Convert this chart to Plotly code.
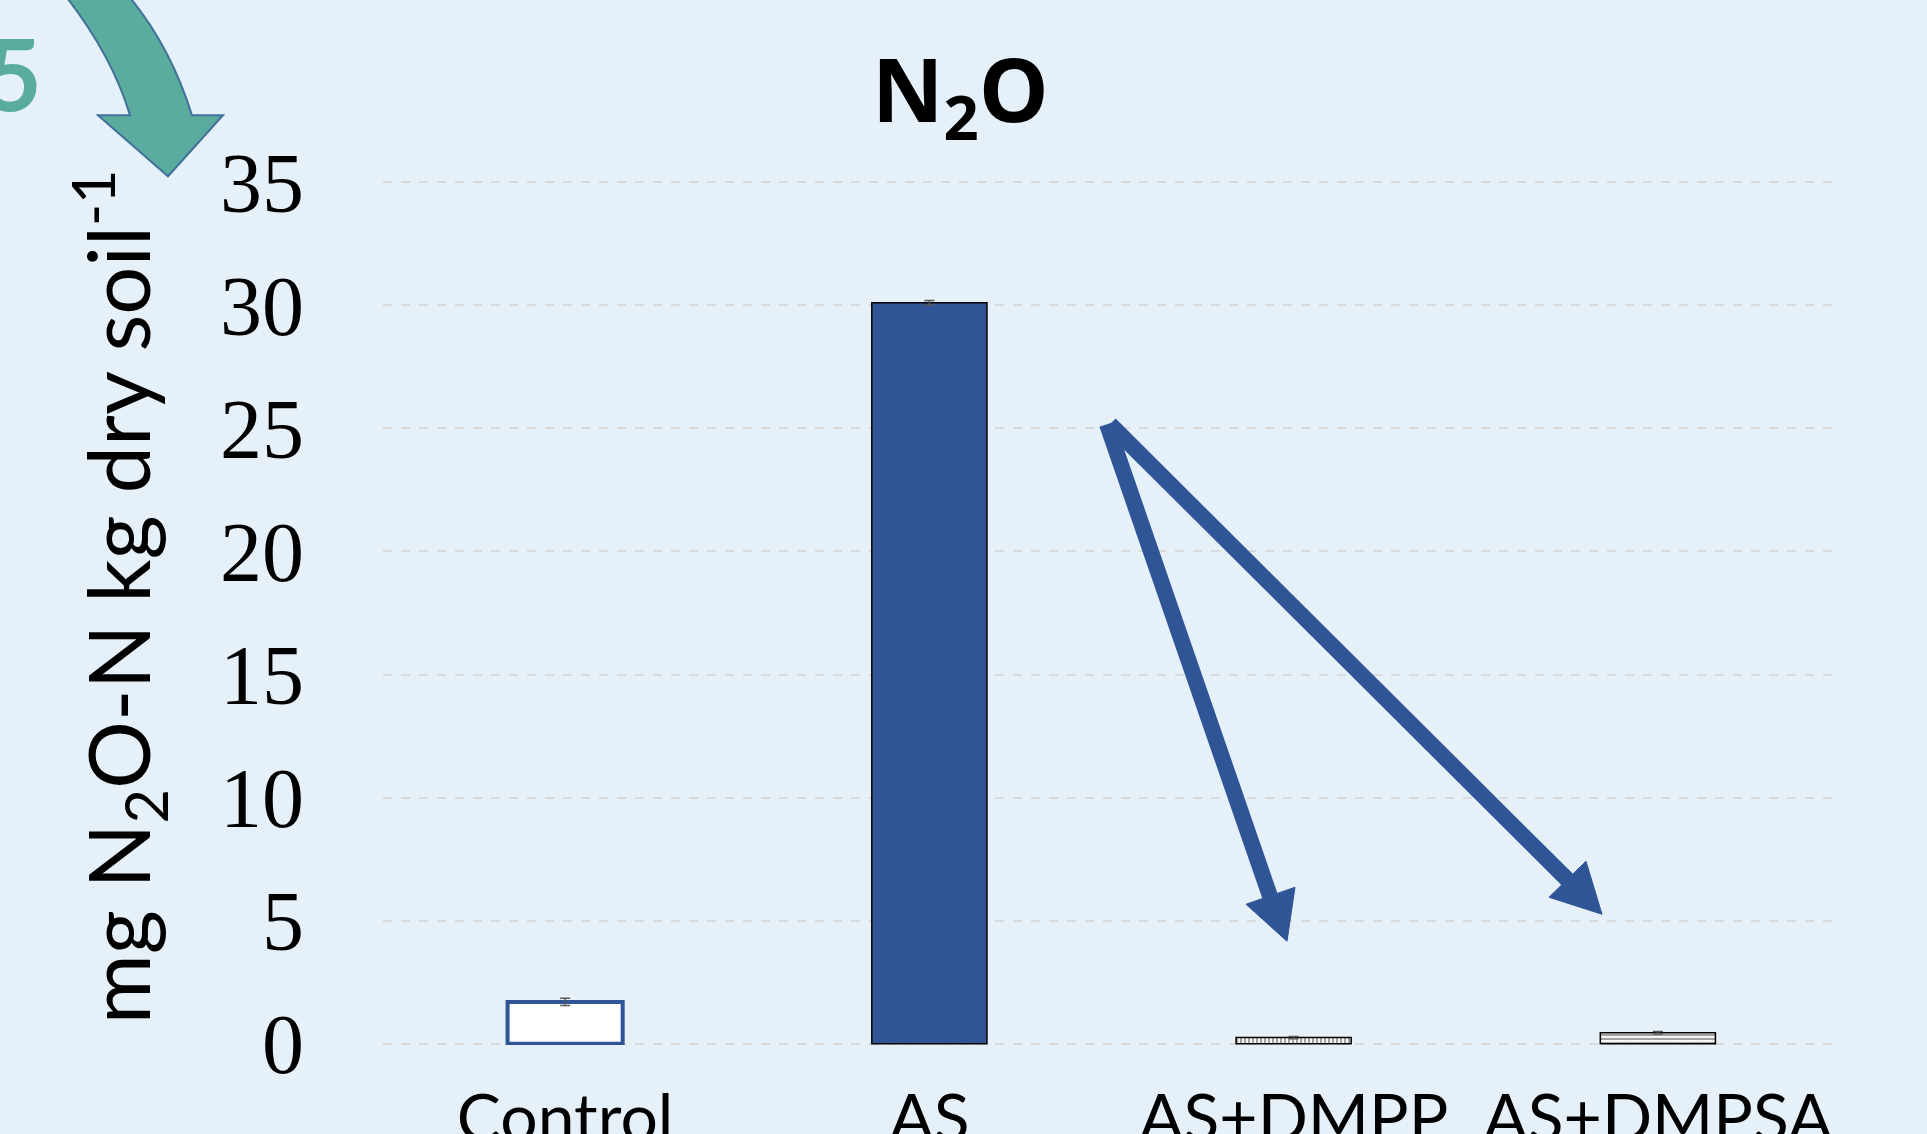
import plotly.graph_objects as go

categories = ["Control", "AS", "AS+DMPP", "AS+DMPSA"]
values = [1.7, 30.1, 0.25, 0.45]
errors = [0.15, 0.1, 0.05, 0.05]
y_ticks = [0, 5, 10, 15, 20, 25, 30, 35]

BLUE = "#2F5597"
BG = "#E6F0F9"
TEAL = "#5AAC9F"
SANS = "Lato, Open Sans, sans-serif"

W, H = 1927, 1134
# pixel frame of the 0..35 value range
L, R, T0, B0 = 383, 1840, 182, 1043.5
PAD = 0.05
UNIT = (B0 - T0) / 35.0
T = T0 - PAD * UNIT
B = B0 + PAD * UNIT


def xp(px):
    return (px - L) / (R - L)


def yp(py):
    return (B - py) / (B - T)


fig = go.Figure()
fig.add_trace(go.Bar(
    x=categories, y=values,
    width=0.316,
    error_y=dict(type="data", array=errors, color="#595959", thickness=1.5, width=5),
    marker=dict(
        color=["white", BLUE, "white", "white"],
        line=dict(color=[BLUE, "black", "black", "black"], width=[4, 1.5, 1.5, 1.5]),
        pattern=dict(shape=["", "", "|", "-"], fgcolor=BLUE, bgcolor="white",
                     size=4, solidity=0.55, fillmode="overlay"),
    ),
    showlegend=False,
))

shapes = []


def arrow(x0, y0, bx, by, c1, c2, tip):
    shapes.append(dict(type="line", xref="paper", yref="paper",
                       x0=xp(x0), y0=yp(y0), x1=xp(bx), y1=yp(by),
                       line=dict(color=BLUE, width=16)))
    path = "M {},{} L {},{} L {},{} Z".format(xp(c1[0]), yp(c1[1]), xp(tip[0]), yp(tip[1]),
                                             xp(c2[0]), yp(c2[1]))
    shapes.append(dict(type="path", xref="paper", yref="paper", path=path,
                       fillcolor=BLUE, line=dict(color=BLUE, width=1)))


arrow(1107, 424, 1270, 896, (1246, 904), (1295, 887), (1287, 941))
arrow(1110, 424, 1568, 880, (1549, 897), (1586, 861), (1602, 914))

# teal curved arrow (top-left decoration)
pts = [
    ("M", (65, -5)),
    ("Q", (112, 55), (130, 115)),
    ("L", (98, 115)),
    ("L", (168, 176)),
    ("L", (223, 115)),
    ("L", (192, 115)),
    ("Q", (170, 45), (128, -5)),
]
segs = []
for p in pts:
    cmd = p[0]
    coords = " ".join("{},{}".format(xp(a), yp(b)) for a, b in p[1:])
    segs.append(cmd + " " + coords)
teal_path = " ".join(segs) + " Z"
shapes.append(dict(type="path", xref="paper", yref="paper", path=teal_path,
                   fillcolor=TEAL, line=dict(color="#41719C", width=2)))

annotations = [
    dict(text="<b>N<sub>2</sub>O</b>", xref="paper", yref="paper",
         x=xp(960), y=yp(93), xanchor="center", yanchor="middle", showarrow=False,
         font=dict(family="Open Sans, sans-serif", size=88, color="black", weight=800)),
    dict(text="mg N<sub>2</sub>O-N kg dry soil<sup>-1</sup>", xref="paper", yref="paper",
         x=xp(119), y=yp(597), xanchor="center", yanchor="middle", showarrow=False,
         textangle=-90,
         font=dict(family=SANS, size=85, color="black")),
    dict(text="<b>5</b>", xref="paper", yref="paper",
         x=xp(44), y=yp(72), xanchor="right", yanchor="middle", showarrow=False,
         font=dict(family=SANS, size=100, color=TEAL)),
]

fig.update_layout(
    width=W, height=H,
    margin=dict(l=L, r=W - R, t=T, b=H - B, pad=0, autoexpand=False),
    paper_bgcolor=BG, plot_bgcolor=BG,
    shapes=shapes, annotations=annotations,
    bargap=0.684,
    xaxis=dict(
        showgrid=False, zeroline=False, showline=False, ticks="",
        tickangle=0, automargin=False,
        tickfont=dict(family=SANS, size=66, color="black"),
        ticklabelstandoff=29,
    ),
    yaxis=dict(
        range=[-PAD, 35 + PAD], tickvals=y_ticks, ticktext=[str(v) for v in y_ticks],
        showgrid=True, gridcolor="#D9D9D9", griddash="dash", gridwidth=1.5,
        zeroline=False, showline=False, ticks="", automargin=False,
        tickfont=dict(family="Liberation Serif, serif", size=84, color="black"),
        ticklabelstandoff=78,
    ),
)

fig.write_html("out.html", config={"displayModeBar": False},
               post_script="document.body.style.margin='0';document.body.style.background='#E6F0F9';window.dispatchEvent(new Event('resize'));")
